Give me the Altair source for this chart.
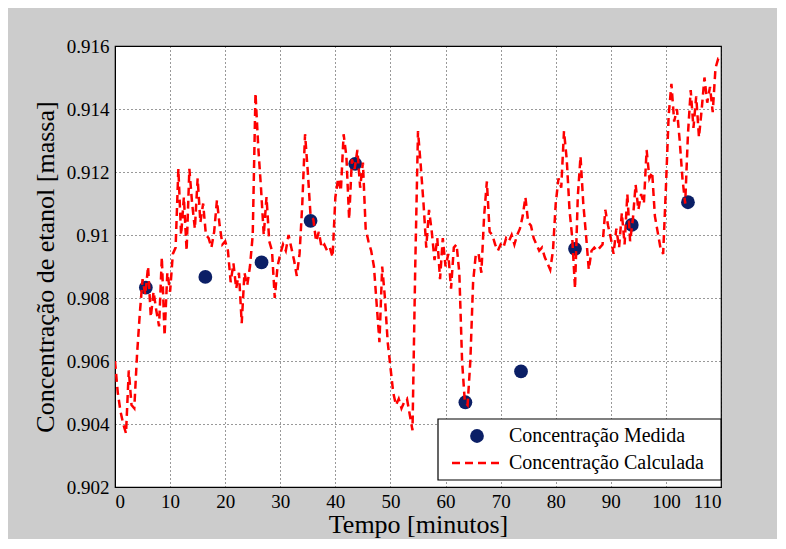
import altair as alt
import pandas as pd

# Concentração calculada (red dashed line)
calc_t = [
    0.0, 0.5, 1.0, 1.5, 2.0, 2.5, 3.0, 3.5, 4.0, 4.5, 5.0, 5.5, 6.0, 6.5, 7.0, 7.5, 8.0, 8.5, 9.0, 9.5,
    10.0, 10.5, 11.0, 11.5, 12.0, 12.5, 13.0, 13.5, 14.0, 14.5, 15.0, 15.5, 16.0, 16.5, 17.0, 17.5, 18.0, 18.5, 19.0, 19.5,
    20.0, 20.5, 21.0, 21.5, 22.0, 22.5, 23.0, 23.5, 24.0, 24.5, 25.0, 25.5, 26.0, 26.5, 27.0, 27.5, 28.0, 28.5, 29.0, 29.5,
    30.0, 30.5, 31.0, 31.5, 32.0, 32.5, 33.0, 33.5, 34.0, 34.5, 35.0, 35.5, 36.0, 36.5, 37.0, 37.5, 38.0, 38.5, 39.0, 39.5,
    40.0, 40.5, 41.0, 41.5, 42.0, 42.5, 43.0, 43.5, 44.0, 44.5, 45.0, 45.5, 46.0, 46.5, 47.0, 47.5, 48.0, 48.5, 49.0, 49.5,
    50.0, 50.5, 51.0, 51.5, 52.0, 52.5, 53.0, 53.5, 54.0, 54.5, 55.0, 55.5, 56.0, 56.5, 57.0, 57.5, 58.0, 58.5, 59.0, 59.5,
    60.0, 60.5, 61.0, 61.5, 62.0, 62.5, 63.0, 63.5, 64.0, 64.5, 65.0, 65.5, 66.0, 66.5, 67.0, 67.5, 68.0, 68.5, 69.0, 69.5,
    70.0, 70.5, 71.0, 71.5, 72.0, 72.5, 73.0, 73.5, 74.0, 74.5, 75.0, 75.5, 76.0, 76.5, 77.0, 77.5, 78.0, 78.5, 79.0, 79.5,
    80.0, 80.5, 81.0, 81.5, 82.0, 82.5, 83.0, 83.5, 84.0, 84.5, 85.0, 85.5, 86.0, 86.5, 87.0, 87.5, 88.0, 88.5, 89.0, 89.5,
    90.0, 90.5, 91.0, 91.5, 92.0, 92.5, 93.0, 93.5, 94.0, 94.5, 95.0, 95.5, 96.0, 96.5, 97.0, 97.5, 98.0, 98.5, 99.0, 99.5,
    100.0, 100.5, 101.0, 101.5, 102.0, 102.5, 103.0, 103.5, 104.0, 104.5, 105.0, 105.5, 106.0, 106.5, 107.0, 107.5, 108.0, 108.5, 109.0, 109.5,
    110.0,
]
calc_v = [
    0.9060, 0.9050, 0.9044, 0.9040, 0.9037, 0.9057, 0.9046, 0.9045, 0.9062, 0.9075,
    0.9086, 0.9081, 0.9090, 0.9074, 0.9082, 0.9076, 0.9071, 0.9093, 0.9068, 0.9088,
    0.9082, 0.9094, 0.9096, 0.9121, 0.9100, 0.9112, 0.9095, 0.9121, 0.9110, 0.9102,
    0.9118, 0.9104, 0.9110, 0.9100, 0.9099, 0.9096, 0.9101, 0.9111, 0.9103, 0.9097,
    0.9098, 0.9095, 0.9085, 0.9091, 0.9083, 0.9088, 0.9072, 0.9088, 0.9084, 0.9090,
    0.9100, 0.9145, 0.9128, 0.9115, 0.9100, 0.9112, 0.9098, 0.9095, 0.9080, 0.9090,
    0.9094, 0.9097, 0.9095, 0.9100, 0.9096, 0.9092, 0.9087, 0.9094, 0.9110, 0.9132,
    0.9120, 0.9106, 0.9105, 0.9098, 0.9101, 0.9096, 0.9097, 0.9095, 0.9096, 0.9093,
    0.9112, 0.9118, 0.9114, 0.9132, 0.9125, 0.9105, 0.9124, 0.9121, 0.9127, 0.9115,
    0.9123, 0.9102, 0.9098, 0.9095, 0.9090, 0.9078, 0.9066, 0.9090, 0.9080, 0.9066,
    0.9058, 0.9050, 0.9046, 0.9048, 0.9045, 0.9047, 0.9048, 0.9043, 0.9038, 0.9090,
    0.9133, 0.9122, 0.9110, 0.9096, 0.9108, 0.9101, 0.9092, 0.9099, 0.9086, 0.9099,
    0.9090, 0.9094, 0.9083, 0.9096, 0.9097, 0.9088, 0.9060, 0.9047, 0.9046, 0.9060,
    0.9085, 0.9094, 0.9094, 0.9088, 0.9106, 0.9117, 0.9101, 0.9100, 0.9097, 0.9095,
    0.9097, 0.9096, 0.9099, 0.9098, 0.9100, 0.9097, 0.9100, 0.9102, 0.9106, 0.9112,
    0.9104, 0.9103, 0.9099, 0.9097, 0.9095, 0.9096, 0.9093, 0.9091, 0.9089, 0.9095,
    0.9110, 0.9118, 0.9115, 0.9133, 0.9124, 0.9108, 0.9099, 0.9083, 0.9112, 0.9125,
    0.9110, 0.9100, 0.9089, 0.9095, 0.9096, 0.9095, 0.9096, 0.9097, 0.9108, 0.9103,
    0.9099, 0.9094, 0.9102, 0.9096, 0.9107, 0.9097, 0.9113, 0.9098, 0.9105, 0.9116,
    0.9108, 0.9113, 0.9110, 0.9127, 0.9118, 0.9120, 0.9106, 0.9101, 0.9096, 0.9094,
    0.9115, 0.9138, 0.9148, 0.9136, 0.9140, 0.9130, 0.9118, 0.9110, 0.9132, 0.9146,
    0.9134, 0.9144, 0.9131, 0.9140, 0.9150, 0.9142, 0.9147, 0.9139, 0.9153, 0.9156,
    0.9156,
]

# Concentração medida (navy dots)
meas_t = [5.6, 16.4, 26.6, 35.5, 43.6, 63.6, 73.7, 83.5, 93.8, 104.0]
meas_v = [0.90833, 0.90867, 0.90913, 0.91045, 0.91226, 0.90469, 0.90567, 0.90956, 0.91032, 0.91104]

x_ticks = [0, 10, 20, 30, 40, 50, 60, 70, 80, 90, 100, 110]
y_ticks = [0.902, 0.904, 0.906, 0.908, 0.910, 0.912, 0.914, 0.916]

legend_labels = ["Concentração Medida", "Concentração Calculada"]

RED = "#ff0000"
NAVY = "#0b1f66"
FONT = "'Liberation Serif', 'Times New Roman', Times, serif"

calc_df = pd.DataFrame({"t": calc_t, "v": calc_v})
meas_df = pd.DataFrame({"t": meas_t, "v": meas_v})
one = pd.DataFrame({"k": [0]})

xscale = alt.Scale(domain=[0, 110], nice=False, zero=False)
yscale = alt.Scale(domain=[0.902, 0.916], nice=False, zero=False)

xaxis = alt.Axis(values=x_ticks, title="Tempo [minutos]", format="d")
yaxis = alt.Axis(values=y_ticks, title="Concentração de etanol [massa]", format="~g")

points = alt.Chart(meas_df).mark_point(
    filled=True, shape="circle", size=190, color=NAVY, opacity=1
).encode(
    x=alt.X("t:Q", scale=xscale, axis=xaxis),
    y=alt.Y("v:Q", scale=yscale, axis=yaxis),
)

line = alt.Chart(calc_df).mark_line(
    color=RED, strokeWidth=2.5, strokeDash=[8, 5], clip=True
).encode(
    x=alt.X("t:Q", scale=xscale),
    y=alt.Y("v:Q", scale=yscale),
)

# legend box (inside plot, bottom right)
leg_box = alt.Chart(one).mark_rect(fill="white", stroke="black", strokeWidth=1.2).encode(
    x=alt.value(323), x2=alt.value(606), y=alt.value(373), y2=alt.value(434)
)
leg_dot = alt.Chart(one).mark_point(filled=True, shape="circle", size=190, color=NAVY, opacity=1).encode(
    x=alt.value(362), y=alt.value(390)
)
leg_line = alt.Chart(one).mark_rule(color=RED, strokeWidth=2.5, strokeDash=[8, 5]).encode(
    x=alt.value(337), x2=alt.value(389), y=alt.value(417)
)
leg_txt1 = alt.Chart(one).mark_text(align="left", baseline="middle", font=FONT, fontSize=20, color="black").encode(
    x=alt.value(394), y=alt.value(390), text=alt.value(legend_labels[0])
)
leg_txt2 = alt.Chart(one).mark_text(align="left", baseline="middle", font=FONT, fontSize=20, color="black").encode(
    x=alt.value(394), y=alt.value(417), text=alt.value(legend_labels[1])
)

chart = alt.layer(points, line, leg_box, leg_dot, leg_line, leg_txt1, leg_txt2).properties(
    width=606,
    height=441,
    background="#cccccc",
    padding={"left": 107, "top": 38, "right": 56, "bottom": 52},
    autosize=alt.AutoSizeParams(type="none"),
).configure_view(
    fill="white", stroke="black", strokeWidth=1.2
).configure_axis(
    labelFont=FONT,
    labelFontSize=19,
    labelColor="black",
    titleFont=FONT,
    titleFontSize=26,
    titleFontWeight="normal",
    titleColor="black",
    grid=True,
    gridColor="black",
    gridDash=[1, 3],
    gridWidth=1,
    gridOpacity=0.8,
    domain=True,
    domainColor="black",
    ticks=False,
    labelPadding=6,
).configure_axisY(
    titlePadding=8,
).configure_axisX(
    titlePadding=0,
    labelPadding=5,
)

chart.save("out.html", embed_options={"renderer": "svg", "actions": False})
